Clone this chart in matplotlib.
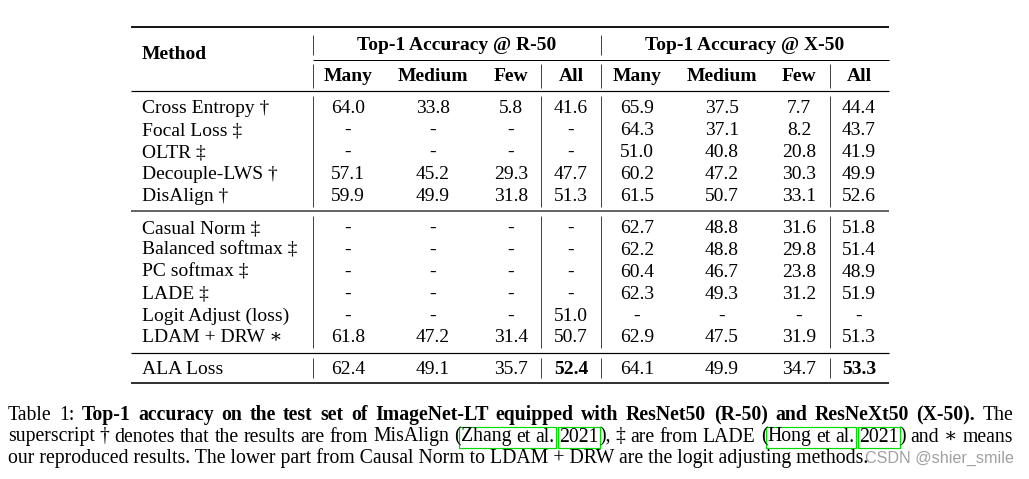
import matplotlib
matplotlib.use('Agg')
import matplotlib.pyplot as plt
from matplotlib.patches import Rectangle

# ---------------- data ----------------
group_labels = ["Top-1 Accuracy @ R-50", "Top-1 Accuracy @ X-50"]
col_labels = ["Many", "Medium", "Few", "All"]
methods_upper = ["Cross Entropy †", "Focal Loss ‡", "OLTR ‡", "Decouple-LWS †", "DisAlign †"]
methods_lower = ["Casual Norm ‡", "Balanced softmax ‡", "PC softmax ‡", "LADE ‡",
                 "Logit Adjust (loss)", "LDAM + DRW ∗"]
methods_ours = ["ALA Loss"]

r50_upper = [[64.0, 33.8, 5.8, 41.6], [None, None, None, None], [None, None, None, None],
             [57.1, 45.2, 29.3, 47.7], [59.9, 49.9, 31.8, 51.3]]
x50_upper = [[65.9, 37.5, 7.7, 44.4], [64.3, 37.1, 8.2, 43.7], [51.0, 40.8, 20.8, 41.9],
             [60.2, 47.2, 30.3, 49.9], [61.5, 50.7, 33.1, 52.6]]
r50_lower = [[None, None, None, None], [None, None, None, None], [None, None, None, None],
             [None, None, None, None], [None, None, None, 51.0], [61.8, 47.2, 31.4, 50.7]]
x50_lower = [[62.7, 48.8, 31.6, 51.8], [62.2, 48.8, 29.8, 51.4], [60.4, 46.7, 23.8, 48.9],
             [62.3, 49.3, 31.2, 51.9], [None, None, None, None], [62.9, 47.5, 31.9, 51.3]]
r50_ours = [[62.4, 49.1, 35.7, 52.4]]
x50_ours = [[64.1, 49.9, 34.7, 53.3]]
bold_ours_cols = [3]  # the "All" column is bold for ALA Loss

caption_l1 = [("Table", "normal"), ("1:", "normal")] + \
    [(w, "bold") for w in "Top-1 accuracy on the test set of ImageNet-LT equipped with ResNet50 (R-50) and ResNeXt50 (X-50).".split()] + \
    [("The", "normal")]
caption_l3 = "our reproduced results. The lower part from Causal Norm to LDAM + DRW are the logit adjusting methods."
watermark = "CSDN @shier_smile"

# ---------------- layout ----------------
W, H = 1029, 479
fig = plt.figure(figsize=(W / 100, H / 100), dpi=100)
ax = fig.add_axes([0, 0, 1, 1])
ax.set_xlim(0, W)
ax.set_ylim(H, 0)
ax.axis('off')

SERIF = ['Liberation Serif', 'DejaVu Serif']
FS = 14
FS_CAP = 14.2
PX = 0.72  # one pixel in points

x_left, x_right = 131, 889
x_method = 142
col_x = [[348, 433, 511, 571], [637, 722, 799, 859]]
group_x = [457, 745]
vbar_x = [313, 541, 601, 830]


def hline(y, x0=x_left, x1=x_right, lw=1.0, color='black'):
    ax.plot([x0, x1], [y, y], color=color, lw=lw * PX, solid_capstyle='butt')


def vbars(y0, y1, xs=vbar_x):
    for x in xs:
        ax.plot([x, x], [y0, y1], color='#444444', lw=1.0 * PX, solid_capstyle='butt')


def txt(x, y, s, ha='center', weight='normal', fs=FS, **kw):
    return ax.text(x, y, s, ha=ha, va='baseline', fontsize=fs, family=SERIF,
                   weight=weight, **kw)


# rules
hline(27, lw=1.8)
hline(60, x0=313, lw=1.0)
hline(91, lw=1.2)
hline(211, lw=1.8, color='#555555')
hline(353, lw=1.2)
hline(383, lw=2.0, color='#333333')

# header
txt(x_method, 59, "Method", ha='left', weight='bold')
for g in range(2):
    txt(group_x[g], 50, group_labels[g], weight='bold')
    for c, lab in enumerate(col_labels):
        txt(col_x[g][c], 81, lab, weight='bold')
vbars(35, 55, xs=[313, 601])
vbars(64, 88)


def draw_section(methods, r50, x50, y_start, step, bold_cols=()):
    for i, m in enumerate(methods):
        y = y_start + i * step
        txt(x_method, y, m, ha='left')
        for g, vals in enumerate((r50[i], x50[i])):
            for c, v in enumerate(vals):
                s = '-' if v is None else f"{v:.1f}"
                txt(col_x[g][c], y, s, weight='bold' if c in bold_cols else 'normal')


draw_section(methods_upper, r50_upper, x50_upper, 113, 22)
vbars(96, 207)
draw_section(methods_lower, r50_lower, x50_lower, 233, 21.9)
vbars(216, 348)
draw_section(methods_ours, r50_ours, x50_ours, 374, 22, bold_cols=bold_ours_cols)
vbars(358, 378)

# ---------------- caption ----------------
renderer = fig.canvas.get_renderer()


def place_line(words, x0, x1, y):
    placed = []
    total = 0
    for w in words:
        pieces = []
        for (t, wt, tag) in w:
            a = txt(0, y, t, ha='left', weight=wt, fs=FS_CAP)
            pw = a.get_window_extent(renderer).width
            pieces.append((a, pw, tag))
            total += pw
        placed.append(pieces)
    gap = (x1 - x0 - total) / (len(words) - 1)
    x = x0
    boxes = {}
    for pieces in placed:
        for a, pw, tag in pieces:
            a.set_x(x)
            if tag:
                if tag not in boxes:
                    boxes[tag] = [x, x + pw]
                boxes[tag][1] = x + pw
            x += pw
        x += gap
    return boxes


cap_x0, cap_x1 = 8, 1013
line1 = [[(t, wt, None)] for t, wt in caption_l1]
place_line(line1, cap_x0, cap_x1, 420)

line2 = [[("superscript", "normal", None)], [("†", "normal", None)], [("denotes", "normal", None)],
         [("that", "normal", None)], [("the", "normal", None)], [("results", "normal", None)],
         [("are", "normal", None)], [("from", "normal", None)], [("MisAlign", "normal", None)],
         [("(", "normal", None), ("Zhang", "normal", "z1")], [("et", "normal", "z1")],
         [("al.", "normal", "z1")], [("2021", "normal", "z2"), ("),", "normal", None)],
         [("‡", "normal", None)], [("are", "normal", None)], [("from", "normal", None)],
         [("LADE", "normal", None)], [("(", "normal", None), ("Hong", "normal", "h1")],
         [("et", "normal", "h1")], [("al.", "normal", "h1")],
         [("2021", "normal", "h2"), (")", "normal", None)], [("and", "normal", None)],
         [("∗", "normal", None)], [("means", "normal", None)]]
boxes = place_line(line2, cap_x0, cap_x1, 441.5)
for tag, (bx0, bx1) in boxes.items():
    ax.add_patch(Rectangle((bx0 - 1.5, 427), bx1 - bx0 + 3, 21, fill=False,
                           edgecolor='#00dd00', lw=1.2 * PX))

t3 = txt(cap_x0, 463, caption_l3, ha='left', fs=FS_CAP)

wm = ax.text(0, 463, watermark, ha='left', va='baseline', fontsize=10,
             family=['Liberation Sans', 'DejaVu Sans'], color='#a0a0a0')
ww = wm.get_window_extent(renderer).width
wm.set_fontsize(10 * 148 / ww)
wm.set_x(1013 - 148)

fig.savefig('out.png', dpi=100)
